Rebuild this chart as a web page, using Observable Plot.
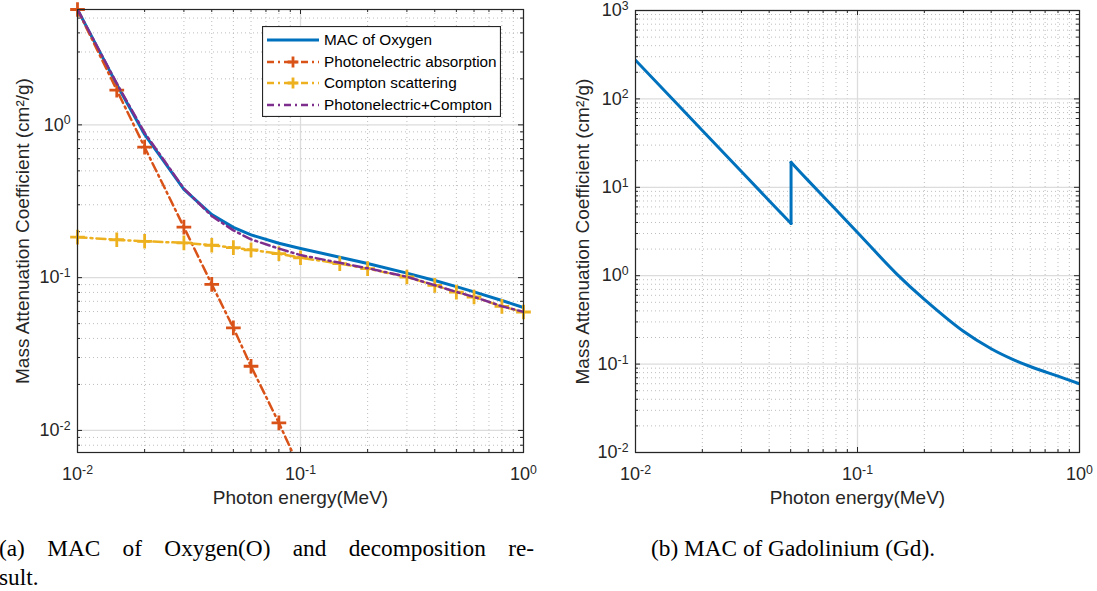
<!DOCTYPE html>
<html>
<head>
<meta charset="utf-8">
<script src="https://cdn.jsdelivr.net/npm/d3@7"></script>
<script src="https://cdn.jsdelivr.net/npm/@observablehq/plot@0.6"></script>
<style>
  html, body { margin: 0; padding: 0; background: #fff; }
  body { width: 1097px; height: 591px; overflow: hidden; position: relative; font-family: "Liberation Sans", Arial, sans-serif; }
  #chartA, #chartB { position: absolute; top: 0; }
  #chartA { left: 0; width: 548px; height: 510px; }
  #chartB { left: 548px; width: 549px; height: 510px; }
  #captions { position: absolute; left: 0; top: 0; pointer-events: none; }
</style>
</head>
<body>
<div id="chartA"></div>
<div id="chartB"></div>
<svg id="captions" width="1097" height="591"></svg>
<script>
// ---------------- data ----------------
const xTicks = [0.01, 0.1, 1];
const yTicksA = [0.01, 0.1, 1];
const yTicksB = [0.01, 0.1, 1, 10, 100, 1000];

// (a) Oxygen
const energyO = [0.01, 0.015, 0.02, 0.03, 0.04, 0.05, 0.06, 0.08, 0.1, 0.15, 0.2, 0.3, 0.4, 0.5, 0.6, 0.8, 1.0];
const macOxygen = [5.69, 1.84, 0.865, 0.378, 0.2585, 0.2132, 0.1907, 0.1678, 0.1551, 0.1361, 0.1237, 0.107, 0.0957, 0.0873, 0.0807, 0.0709, 0.0637];
const comptonScattering = [0.184, 0.177, 0.173, 0.169, 0.163, 0.157, 0.152, 0.1435, 0.135, 0.1235, 0.1145, 0.101, 0.089, 0.0805, 0.0747, 0.0649, 0.0596];
const photoPlusCompton = [5.69, 1.87, 0.887, 0.383, 0.253, 0.204, 0.178, 0.155, 0.1405, 0.125, 0.1152, 0.1013, 0.0892, 0.0806, 0.0748, 0.065, 0.0597];
const energyPhoto = [0.01, 0.015, 0.02, 0.03, 0.04, 0.05, 0.06, 0.08, 0.1];
const photoelectric = [5.69, 1.69, 0.714, 0.214, 0.0904, 0.0469, 0.0263, 0.0112, 0.0055];

// (b) Gadolinium: below and above the K-edge (0.0502 MeV)
const energyGdLow = [0.01, 0.015, 0.02, 0.03, 0.04, 0.0502];
const macGdLow = [274, 94, 44, 15.1, 7.06, 3.9];
const energyGdHigh = [0.0502, 0.06, 0.08, 0.1, 0.15, 0.2, 0.3, 0.4, 0.5, 0.6, 0.8, 1.0];
const macGdHigh = [19.2, 11.9, 5.56, 3.08, 1.05, 0.54, 0.235, 0.149, 0.113, 0.094, 0.073, 0.06];

const legendLabels = ["MAC of Oxygen", "Photonelectric absorption", "Compton scattering", "Photonelectric+Compton"];
const xLabel = "Photon energy(MeV)";
const yLabel = "Mass Attenuation Coefficient (cm\u00B2/g)";
const captionA = ["(a) MAC of Oxygen(O) and decomposition re-", "sult."];
const captionB = "(b) MAC of Gadolinium (Gd).";

// ---------------- style ----------------
const BLUE = "#0072BD", ORANGE = "#D95319", YELLOW = "#EDB120", PURPLE = "#7E2F8E";
const AX = "#262626";
const DASHDOT = "9,4,2,4";
const FONT = "'Liberation Sans', Arial, Helvetica, sans-serif";

function minorTicks(lo, hi) {
  const out = [];
  for (let e = Math.floor(Math.log10(lo)); e <= Math.ceil(Math.log10(hi)); e++)
    for (let m = 2; m <= 9; m++) { const v = m * Math.pow(10, e); if (v > lo && v < hi) out.push(v); }
  return out;
}

function gridAndTicks(xDom, yDom, yMajor, plotW, plotH) {
  const xMinor = minorTicks(xDom[0], xDom[1]);
  const yMinor = minorTicks(yDom[0], yDom[1]);
  const yMaj = yMajor.filter(v => v >= yDom[0] && v <= yDom[1]);
  const minorGrid = {stroke: "#bdbdbd", strokeWidth: 1, strokeDasharray: "1,3"};
  const majorGrid = {stroke: "#dcdcdc", strokeWidth: 1.3};
  const tk = {stroke: AX, strokeWidth: 1};
  const MJ = 5, MN = 3;
  return [
    Plot.ruleX(xMinor, minorGrid),
    Plot.ruleY(yMinor, minorGrid),
    Plot.ruleX(xTicks, majorGrid),
    Plot.ruleY(yMaj, majorGrid),
    Plot.tickX(xTicks, {...tk, insetTop: plotH - MJ}),
    Plot.tickX(xTicks, {...tk, insetBottom: plotH - MJ}),
    Plot.tickX(xMinor, {...tk, insetTop: plotH - MN}),
    Plot.tickX(xMinor, {...tk, insetBottom: plotH - MN}),
    Plot.tickY(yMaj, {...tk, insetRight: plotW - MJ}),
    Plot.tickY(yMaj, {...tk, insetLeft: plotW - MJ}),
    Plot.tickY(yMinor, {...tk, insetRight: plotW - MN}),
    Plot.tickY(yMinor, {...tk, insetLeft: plotW - MN})
  ];
}

function axesAndLabels(yMajor, yLabelDx) {
  const fmt = d => "10^" + Math.round(Math.log10(d));
  return [
    Plot.axisX(xTicks, {tickFormat: fmt, tickSize: 0, tickPadding: 15, label: null, fill: AX, fontSize: 18}),
    Plot.axisY(yMajor, {tickFormat: fmt, tickSize: 0, tickPadding: 7, label: null, fill: AX, fontSize: 18}),
    Plot.text([xLabel], {frameAnchor: "bottom", dy: 45, fontSize: 19, fill: AX, lineAnchor: "middle", textAnchor: "middle"}),
    Plot.text([yLabel], {frameAnchor: "left", rotate: -90, dx: yLabelDx, fontSize: 19, fill: AX, lineAnchor: "middle", textAnchor: "middle"})
  ];
}

function superscriptTicks(svg) {
  svg.querySelectorAll('g[aria-label$="tick label"] text').forEach(t => {
    const m = (t.textContent || "").match(/^10\^(-?\d+)$/);
    if (!m) return;
    t.textContent = "10";
    const ts = document.createElementNS("http://www.w3.org/2000/svg", "tspan");
    ts.setAttribute("dy", "-6.2");
    ts.setAttribute("font-size", "12.3");
    ts.textContent = m[1];
    t.appendChild(ts);
  });
}

const commonStyle = {fontFamily: FONT, fontSize: "18px", color: AX, background: "transparent", overflow: "visible"};

// ---------------- chart (a) ----------------
const wA = 548, hA = 510, mlA = 77, mrA = 25, mtA = 9, mbA = 58;
const yDomA = [0.00717, 5.69];
const rowsO = energyO.map((e, i) => ({e, mac: macOxygen[i], comp: comptonScattering[i], sum: photoPlusCompton[i]}));
const rowsP = energyPhoto.map((e, i) => ({e, v: photoelectric[i]}));

const chartA = Plot.plot({
  width: wA, height: hA, marginLeft: mlA, marginRight: mrA, marginTop: mtA, marginBottom: mbA,
  style: commonStyle,
  x: {type: "log", domain: [0.01, 1]},
  y: {type: "log", domain: yDomA},
  marks: [
    ...gridAndTicks([0.01, 1], yDomA, yTicksA, wA - mlA - mrA, hA - mtA - mbA),
    Plot.line(rowsO, {x: "e", y: "mac", stroke: BLUE, strokeWidth: 3, clip: true}),
    Plot.line(rowsP, {x: "e", y: "v", stroke: ORANGE, strokeWidth: 2.5, strokeDasharray: DASHDOT, clip: true}),
    Plot.dot(rowsP.filter(d => d.v >= yDomA[0]), {x: "e", y: "v", symbol: "plus", r: 4.8, stroke: ORANGE, strokeWidth: 2.8}),
    Plot.line(rowsO, {x: "e", y: "comp", stroke: YELLOW, strokeWidth: 2.5, strokeDasharray: DASHDOT, clip: true}),
    Plot.dot(rowsO, {x: "e", y: "comp", symbol: "plus", r: 4.8, stroke: YELLOW, strokeWidth: 2.8}),
    Plot.line(rowsO, {x: "e", y: "sum", stroke: PURPLE, strokeWidth: 2.5, strokeDasharray: DASHDOT, clip: true}),
    Plot.frame({stroke: AX, strokeWidth: 1.2}),
    ...axesAndLabels(yTicksA, -55)
  ]
});
superscriptTicks(chartA);
document.getElementById("chartA").appendChild(chartA);

// ---------------- chart (b) ----------------
const wB = 549, hB = 510, mlB = 87, mrB = 18, mtB = 10, mbB = 58;
const yDomB = [0.01, 1000];
const rowsGdLow = energyGdLow.map((e, i) => ({e, v: macGdLow[i]}));
const rowsGdHigh = energyGdHigh.map((e, i) => ({e, v: macGdHigh[i]}));
const rowsGdEdge = [rowsGdLow[rowsGdLow.length - 1], rowsGdHigh[0]];

const chartB = Plot.plot({
  width: wB, height: hB, marginLeft: mlB, marginRight: mrB, marginTop: mtB, marginBottom: mbB,
  style: commonStyle,
  x: {type: "log", domain: [0.01, 1]},
  y: {type: "log", domain: yDomB},
  marks: [
    ...gridAndTicks([0.01, 1], yDomB, yTicksB, wB - mlB - mrB, hB - mtB - mbB),
    Plot.line(rowsGdLow, {x: "e", y: "v", stroke: BLUE, strokeWidth: 3, clip: true}),
    Plot.line(rowsGdEdge, {x: "e", y: "v", stroke: BLUE, strokeWidth: 3, clip: true}),
    Plot.line(rowsGdHigh, {x: "e", y: "v", stroke: BLUE, strokeWidth: 3, curve: "catmull-rom", clip: true}),
    Plot.frame({stroke: AX, strokeWidth: 1.2}),
    ...axesAndLabels(yTicksB, -53)
  ]
});
superscriptTicks(chartB);
document.getElementById("chartB").appendChild(chartB);

// ---------------- legend (chart a) ----------------
(function legend() {
  const W = 239, H = 91;
  const host = document.getElementById("chartA");
  const svg = d3.create("svg").attr("id", "legend").attr("width", W).attr("height", H)
    .style("position", "absolute").style("left", "262px").style("top", "26px");
  svg.append("rect").attr("x", 0.5).attr("y", 0.5).attr("width", W - 1).attr("height", H - 1)
    .attr("fill", "#fff").attr("stroke", AX).attr("stroke-width", 1.2);
  const styles = [
    {c: BLUE, w: 3, dash: null, marker: false},
    {c: ORANGE, w: 2.5, dash: "7,4,2,4", marker: true},
    {c: YELLOW, w: 2.5, dash: "7,4,2,4", marker: true},
    {c: PURPLE, w: 2.5, dash: "7,4,2,4", marker: false}
  ];
  const rowsY = [14, 36, 57, 79];
  legendLabels.forEach((lab, i) => {
    const s = styles[i], y = rowsY[i];
    const ln = svg.append("line").attr("x1", 5).attr("x2", 57).attr("y1", y).attr("y2", y)
      .attr("stroke", s.c).attr("stroke-width", s.w);
    if (s.dash) ln.attr("stroke-dasharray", s.dash);
    if (s.marker) {
      svg.append("path").attr("d", `M31,${y - 5.4}V${y + 5.4}M${31 - 5.4},${y}H${31 + 5.4}`)
        .attr("stroke", s.c).attr("stroke-width", 2.8).attr("fill", "none");
    }
    svg.append("text").attr("x", 62).attr("y", y + 5.3).attr("fill", "#000")
      .attr("font-family", FONT).attr("font-size", 15.3).text(lab);
  });
  host.appendChild(svg.node());
})();

// ---------------- captions ----------------
(function captions() {
  const cap = d3.select("#captions");
  const serif = "'Liberation Serif', 'Times New Roman', serif";
  cap.append("text").attr("x", -1).attr("y", 556).attr("font-family", serif).attr("font-size", 23.3)
    .attr("word-spacing", "16.5px").attr("fill", "#000").text(captionA[0]);
  cap.append("text").attr("x", -1).attr("y", 585).attr("font-family", serif).attr("font-size", 23.3)
    .attr("fill", "#000").text(captionA[1]);
  cap.append("text").attr("x", 651).attr("y", 556).attr("font-family", serif).attr("font-size", 23.3)
    .attr("fill", "#000").text(captionB);
})();
</script>
</body>
</html>
